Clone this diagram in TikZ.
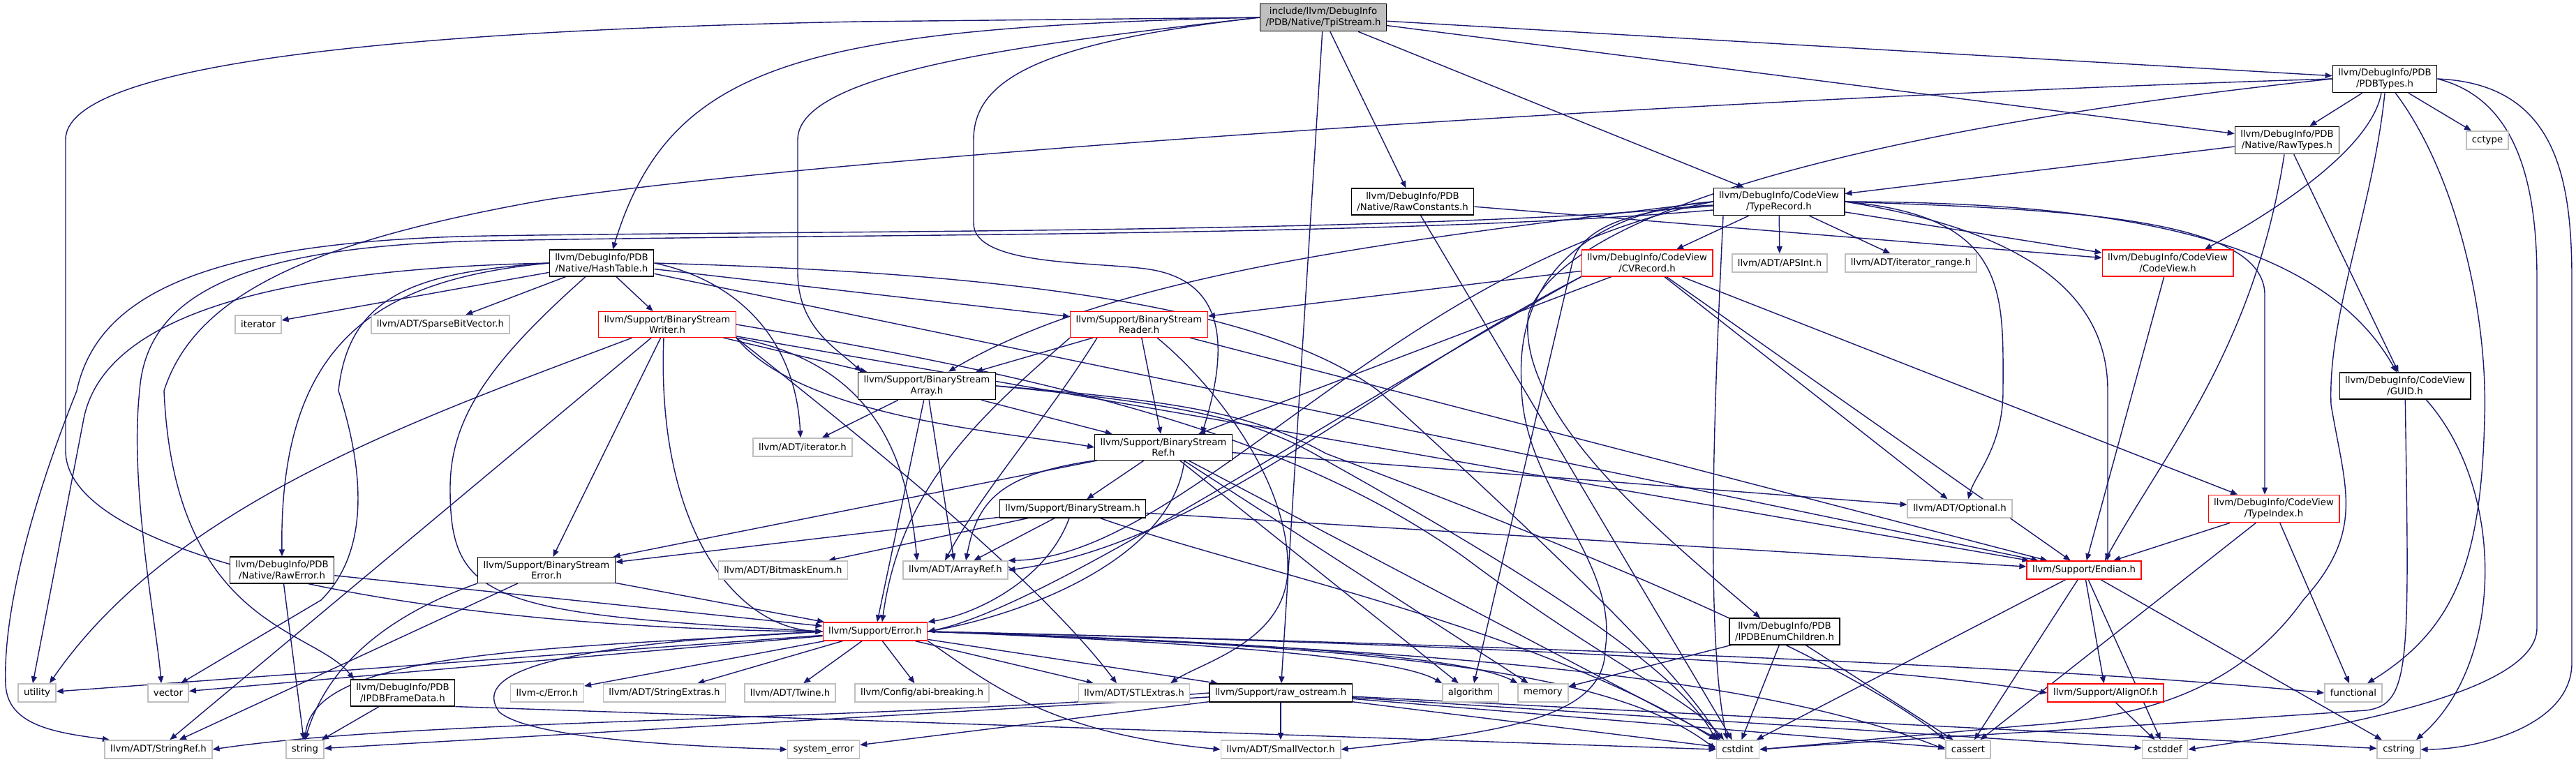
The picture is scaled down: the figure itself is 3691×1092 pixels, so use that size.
\documentclass[tikz,border=0pt]{standalone}
\usepackage{fontspec}
\setmainfont{DejaVu Sans}
\usetikzlibrary{arrows.meta}
\definecolor{edgeblue}{HTML}{191970}
\definecolor{rootgray}{HTML}{BFBFBF}
\pgfdeclarelayer{bg}
\pgfsetlayers{bg,main}
\tikzset{
  file/.style={draw=black, fill=white, line width=1.3pt, inner xsep=8pt, inner ysep=5.5pt,
    minimum height=26pt, align=center, font=\fontsize{13.3}{15.5}\selectfont},
  trunc/.style={file, draw=red},
  sys/.style={file, draw=black!25, line width=1.6pt},
  root/.style={file, fill=rootgray},
  dep/.style={->, draw=edgeblue, line width=1.4pt},
}
\begin{document}
\begin{tikzpicture}[x=1pt, y=-1pt, >={Triangle[length=10pt,width=8pt]}]
\useasboundingbox (0,0) rectangle (3691,1092);

\node[root] (tpi) at (1896,25) {include/llvm/DebugInfo\\/PDB/Native/TpiStream.h};
\node[file] (hash) at (862,377) {llvm/DebugInfo/PDB\\/Native/HashTable.h};
\node[file] (rawconst) at (2024,289) {llvm/DebugInfo/PDB\\/Native/RawConstants.h};
\node[file] (typerec) at (2549,289) {llvm/DebugInfo/CodeView\\/TypeRecord.h};
\node[file] (pdbtypes) at (3417,113) {llvm/DebugInfo/PDB\\/PDBTypes.h};
\node[file] (rawtypes) at (3277,201) {llvm/DebugInfo/PDB\\/Native/RawTypes.h};
\node[sys] (cctype) at (3564,201) {cctype};
\node[trunc] (cvrecord) at (2360,377) {llvm/DebugInfo/CodeView\\/CVRecord.h};
\node[sys] (apsint) at (2550,377) {llvm/ADT/APSInt.h};
\node[sys] (iterrange) at (2738,377) {llvm/ADT/iterator\_range.h};
\node[trunc] (codeview) at (3106,377) {llvm/DebugInfo/CodeView\\/CodeView.h};
\node[sys] (iterstd) at (370,465) {iterator};
\node[sys] (sparse) at (631,465) {llvm/ADT/SparseBitVector.h};
\node[trunc] (writer) at (956,465) {llvm/Support/BinaryStream\\Writer.h};
\node[trunc] (reader) at (1632,465) {llvm/Support/BinaryStream\\Reader.h};
\node[file] (array) at (1328,553) {llvm/Support/BinaryStream\\Array.h};
\node[file] (guid) at (3446,553) {llvm/DebugInfo/CodeView\\/GUID.h};
\node[sys] (iteradt) at (1150,641) {llvm/ADT/iterator.h};
\node[file] (ref) at (1667,641) {llvm/Support/BinaryStream\\Ref.h};
\node[file] (binstream) at (1537,729) {llvm/Support/BinaryStream.h};
\node[sys] (optional) at (2808,729) {llvm/ADT/Optional.h};
\node[trunc] (typeindex) at (3258,729) {llvm/DebugInfo/CodeView\\/TypeIndex.h};
\node[file] (rawerror) at (404,817) {llvm/DebugInfo/PDB\\/Native/RawError.h};
\node[file] (streamerror) at (783,817) {llvm/Support/BinaryStream\\Error.h};
\node[sys] (bitmask) at (1122,817) {llvm/ADT/BitmaskEnum.h};
\node[sys] (arrayref) at (1369,817) {llvm/ADT/ArrayRef.h};
\node[trunc] (endian) at (2986,817) {llvm/Support/Endian.h};
\node[trunc] (error) at (1254,905) {llvm/Support/Error.h};
\node[file] (enumch) at (2557,905) {llvm/DebugInfo/PDB\\/IPDBEnumChildren.h};
\node[sys] (utility) at (53,993) {utility};
\node[sys] (vector) at (241,993) {vector};
\node[file] (framedata) at (577,993) {llvm/DebugInfo/PDB\\/IPDBFrameData.h};
\node[sys] (cerror) at (784,993) {llvm-c/Error.h};
\node[sys] (strext) at (952,993) {llvm/ADT/StringExtras.h};
\node[sys] (twine) at (1132,993) {llvm/ADT/Twine.h};
\node[sys] (abi) at (1321,993) {llvm/Config/abi-breaking.h};
\node[sys] (stlext) at (1625,993) {llvm/ADT/STLExtras.h};
\node[file] (ostream) at (1835,993) {llvm/Support/raw\_ostream.h};
\node[sys] (algorithm) at (2107,993) {algorithm};
\node[sys] (memory) at (2211,993) {memory};
\node[trunc] (alignof) at (3017,993) {llvm/Support/AlignOf.h};
\node[sys] (functional) at (3372,993) {functional};
\node[sys] (strref) at (227,1074) {llvm/ADT/StringRef.h};
\node[sys] (string) at (437,1074) {string};
\node[sys] (syserror) at (1180,1074) {system\_error};
\node[sys] (smallvec) at (1835,1074) {llvm/ADT/SmallVector.h};
\node[sys] (cstdint) at (2490,1074) {cstdint};
\node[sys] (cassert) at (2820,1074) {cassert};
\node[sys] (cstddef) at (3102,1074) {cstddef};
\node[sys] (cstring) at (3437,1074) {cstring};

\begin{pgfonlayer}{bg}
\fill[white] (0,0) rectangle (3691,1092);

\draw[dep] (tpi.west) -- (1230,31) .. controls (500,45) and (94,100) .. (94,200) -- (94,646) .. controls (94,800) and (600,900) .. (error.west);
\draw[dep] (tpi.west) .. controls (1150,40) and (960,90) .. ([xshift=16pt]hash.north);
\draw[dep] (tpi.west) .. controls (1500,60) and (1143,100) .. (1143,200) -- (1143,390) .. controls (1143,470) and (1200,500) .. ([xshift=5pt]array.north west);
\draw[dep] (tpi.west) .. controls (1500,60) and (1395,110) .. (1395,200) -- (1395,320) .. controls (1395,380) and (1560,375) .. (1640,385) .. controls (1760,400) and (1760,500) .. ([xshift=55pt]ref.north);
\draw[dep] (tpi) -- (ostream);
\draw[dep] (tpi) -- (rawconst);
\draw[dep] (tpi) -- (typerec);
\draw[dep] (tpi) -- (pdbtypes);
\draw[dep] (tpi) -- (rawtypes);

\draw[dep] (hash) -- (iterstd);
\draw[dep] (hash) -- (sparse);
\draw[dep] (hash) -- (writer);
\draw[dep] (hash) -- (reader);
\draw[dep] (hash) -- (endian);
\draw[dep] (hash.west) .. controls (550,400) and (400,480) .. (rawerror.north);
\draw[dep] ([xshift=-23pt]hash.south) .. controls (700,520) and (645,600) .. (645,700) .. controls (645,860) and (700,880) .. (error.west);
\draw[dep] (hash.east) .. controls (1050,400) and (1140,480) .. ([xshift=-3pt]iteradt.north);
\draw[dep] (hash.east) .. controls (1400,390) and (1800,430) .. (1975,560) .. controls (2150,720) and (2400,950) .. ([xshift=-25pt]cstdint.north);
\draw[dep] (hash.west) .. controls (400,385) and (150,450) .. (120,600) -- ([xshift=-6pt]utility.north);
\draw[dep] (hash.west) .. controls (600,390) and (500,420) .. (485,560) .. controls (530,700) and (520,800) .. (460,860) -- ([xshift=18pt]vector.north);

\draw[dep] (rawconst) -- (codeview);
\draw[dep] (rawconst) -- (cstdint);

\draw[dep] (rawtypes) -- (typerec);
\draw[dep] (rawtypes) -- (guid);
\draw[dep] ([xshift=-4pt]rawtypes.south) .. controls (3230,500) and (3100,650) .. ([xshift=30pt]endian.north);

\draw[dep] (pdbtypes) -- (rawtypes);
\draw[dep] (pdbtypes) -- (cctype);
\draw[dep] ([xshift=-5pt]pdbtypes.south) .. controls (3400,200) and (3300,280) .. ([xshift=53pt]codeview.north);
\draw[dep] (pdbtypes.west) .. controls (2800,170) and (2250,280) .. (2190,450) .. controls (2170,600) and (2400,780) .. ([xshift=-35pt]enumch.north);
\draw[dep] (pdbtypes.west) .. controls (2460,140) and (1230,220) .. (784,286) .. controls (450,345) and (280,420) .. (235,560) .. controls (250,900) and (450,900) .. ([xshift=-70pt]framedata.north);
\draw[dep] (pdbtypes.south) .. controls (3400,300) and (3335,450) .. (3340,580) .. controls (3360,700) and (3390,760) .. (3300,860) .. controls (3200,1000) and (3050,1030) .. (2900,1040) -- (cstdint.east);
\draw[dep] (pdbtypes) .. controls (3520,250) and (3565,450) .. (3560,600) .. controls (3555,800) and (3520,900) .. ([xshift=20pt]functional.north);
\draw[dep] (pdbtypes.east) .. controls (3600,140) and (3635,250) .. (3635,400) -- (3635,900) .. controls (3635,1000) and (3300,1050) .. (cstddef.east);
\draw[dep] (pdbtypes.east) .. controls (3660,120) and (3685,250) .. (3685,400) -- (3685,950) .. controls (3685,1040) and (3550,1074) .. (cstring.east);

\draw[dep] (typerec) -- (apsint);
\draw[dep] (typerec) -- (iterrange);
\draw[dep] (typerec) -- (codeview);
\draw[dep] (typerec) -- (cvrecord);
\draw[dep] ([yshift=-5pt]typerec.west) .. controls (2330,300) and (2262,330) .. (2252,380) -- ([xshift=5pt]algorithm.north);
\draw[dep] (typerec.west) .. controls (2014,343) and (1600,390) .. ([xshift=31pt]array.north);
\draw[dep] (typerec.west) .. controls (2000,380) and (1700,800) .. (arrayref.north east);
\draw[dep] (typerec.east) .. controls (2880,310) and (2870,420) .. (2870,560) .. controls (2870,640) and (2830,680) .. ([xshift=12pt]optional.north);
\draw[dep] (typerec.east) .. controls (3000,290) and (3320,330) .. ([xshift=-12pt]guid.north);
\draw[dep] (typerec.east) .. controls (2950,300) and (3240,310) .. (3245,420) -- ([xshift=-13pt]typeindex.north);
\draw[dep] (typerec.east) .. controls (2900,330) and (3020,420) .. (3020,560) -- ([xshift=34pt]endian.north);
\draw[dep] ([xshift=-80pt]typerec.south) .. controls (2460,500) and (2440,900) .. ([xshift=-15pt]cstdint.north);
\draw[dep] ([yshift=-12pt]typerec.west) .. controls (2000,340) and (1200,335) .. (700,345) .. controls (350,352) and (210,420) .. (200,560) .. controls (185,700) and (225,900) .. ([xshift=-10pt]vector.north);
\draw[dep] ([yshift=-6pt]typerec.west) .. controls (2000,335) and (1200,330) .. (700,338) .. controls (300,345) and (140,420) .. (110,560) .. controls (30,760) and (5,900) .. (8,980) .. controls (10,1040) and (80,1050) .. ([xshift=-70pt]strref.north);
\draw[dep] (typerec.west) .. controls (2300,300) and (2170,380) .. (2180,550) .. controls (2180,700) and (2320,800) .. (2300,930) .. controls (2300,1030) and (2150,1050) .. (smallvec.east);

\draw[dep] (cvrecord) -- (reader);
\draw[dep] (cvrecord) -- (typeindex);
\draw[dep] (cvrecord) -- (endian);
\draw[dep] (cvrecord) -- (optional);
\draw[dep] (cvrecord) -- (ref);
\draw[dep] (cvrecord.south west) .. controls (1950,560) and (1720,780) .. (arrayref.east);
\draw[dep] (cvrecord.south west) .. controls (1900,600) and (1500,870) .. (error.east);

\draw[dep] (writer) -- (array);
\draw[dep] (writer) -- (endian);
\draw[dep] (writer) -- (streamerror);
\draw[dep] (writer) -- (strref);
\draw[dep] (writer.south east) .. controls (1150,600) and (1450,620) .. (ref.west);
\draw[dep] (writer) .. controls (600,600) and (250,720) .. ([xshift=18pt]utility.north);
\draw[dep] (writer.south east) .. controls (1200,600) and (1480,820) .. ([xshift=-25pt]stlext.north);
\draw[dep] (writer.south east) .. controls (1250,520) and (1300,650) .. ([xshift=-55pt]arrayref.north);
\draw[dep] ([xshift=-5pt]writer.south) .. controls (940,750) and (1050,900) .. (error.west);
\draw[dep] (writer.east) .. controls (1500,540) and (1850,620) .. (2100,800) .. controls (2300,950) and (2420,1000) .. ([xshift=-20pt]cstdint.north);

\draw[dep] (reader) -- (array);
\draw[dep] (reader) -- (ref);
\draw[dep] (reader) -- (endian);
\draw[dep] ([xshift=-60pt]reader.south) .. controls (1500,600) and (1410,700) .. ([xshift=-15pt]arrayref.north);
\draw[dep] (reader.south west) .. controls (1400,600) and (1290,700) .. ([xshift=10pt]error.north);
\draw[dep] ([xshift=26pt]reader.south) .. controls (1750,560) and (1850,700) .. (1845,820) .. controls (1840,920) and (1720,950) .. ([xshift=52pt]stlext.north);

\draw[dep] (array) -- (arrayref);
\draw[dep] (array) -- (iteradt);
\draw[dep] (array) -- (ref);
\draw[dep] (array) -- (error);
\draw[dep] (array.east) .. controls (1700,580) and (1800,600) .. (1900,660) .. controls (2150,800) and (2400,950) .. (cstdint.north west);
\draw[dep] (array.east) .. controls (1700,575) and (1800,595) .. (1900,650) .. controls (2300,800) and (2650,950) .. (cassert.north west);

\draw[dep] (ref) -- (binstream);
\draw[dep] (ref.south west) .. controls (1430,680) and (1400,720) .. ([xshift=15pt]arrayref.north);
\draw[dep] (ref) -- (optional);
\draw[dep] (ref) -- (streamerror);
\draw[dep] ([xshift=30pt]ref.south) .. controls (1680,800) and (1470,880) .. (error.east);
\draw[dep] (ref) -- (algorithm);
\draw[dep] (ref) -- (memory);
\draw[dep] (ref) -- (cstdint);

\draw[dep] (binstream) -- (arrayref);
\draw[dep] (binstream) -- (bitmask);
\draw[dep] (binstream) -- (streamerror);
\draw[dep] (binstream) -- (endian);
\draw[dep] ([xshift=-5pt]binstream.south) .. controls (1500,830) and (1400,880) .. (error.north east);
\draw[dep] (binstream) .. controls (1800,820) and (2200,900) .. (cstdint.north west);

\draw[dep] (streamerror) -- (strref);
\draw[dep] (streamerror) -- (error);
\draw[dep] (streamerror.south west) .. controls (560,880) and (470,950) .. (string.north);

\draw[dep] (rawerror) -- (error);
\draw[dep] (rawerror) -- (string);

\draw[dep] (framedata) -- (string);
\draw[dep] (framedata.south east) -- (cstdint.west);

\draw[dep] (enumch) -- (memory);
\draw[dep] (enumch) -- (cstdint);
\draw[dep] (enumch) -- (cassert);

\draw[dep] (error) -- (cerror);
\draw[dep] (error) -- (strext);
\draw[dep] (error) -- (twine);
\draw[dep] (error) -- (abi);
\draw[dep] (error) -- (stlext);
\draw[dep] (error) -- (ostream);
\draw[dep] (error) -- (utility);
\draw[dep] (error) -- (vector);
\draw[dep] (error.west) .. controls (800,930) and (450,930) .. (string.north);
\draw[dep] (error.west) .. controls (760,925) and (680,970) .. (715,1020) .. controls (760,1060) and (1000,1070) .. (syserror.west);
\draw[dep] (error.south east) .. controls (1420,980) and (1500,1050) .. (smallvec.west);
\draw[dep] (error.east) .. controls (1700,920) and (2000,940) .. (algorithm.north west);
\draw[dep] (error.east) .. controls (1800,920) and (2100,940) .. (memory.north west);
\draw[dep] (error.east) .. controls (1900,925) and (2300,950) .. (cstdint.west);
\draw[dep] (error.east) .. controls (2000,930) and (2500,960) .. (cassert.west);
\draw[dep] (error.east) .. controls (2000,920) and (2700,950) .. (alignof.west);
\draw[dep] (error.east) .. controls (2000,920) and (2900,950) .. (functional.west);

\draw[dep] (ostream) -- (smallvec);
\draw[dep] (ostream) -- (syserror);
\draw[dep] (ostream) -- (string);
\draw[dep] (ostream.west) .. controls (1200,1035) and (600,1030) .. (strref.east);
\draw[dep] (ostream) -- (cassert);
\draw[dep] (ostream) -- (cstddef);
\draw[dep] (ostream) -- (cstdint);
\draw[dep] (ostream) -- (cstring);

\draw[dep] (endian) -- (alignof);
\draw[dep] (endian) -- (cassert);
\draw[dep] (endian) -- (cstddef);
\draw[dep] (endian) -- (cstdint);
\draw[dep] (endian) -- (cstring);

\draw[dep] (typeindex) -- (endian);
\draw[dep] (typeindex) -- (functional);
\draw[dep] (typeindex) -- (cassert);

\draw[dep] (codeview) -- (endian);

\draw[dep] (guid) .. controls (3452,950) and (3455,1010) .. (3390,1018) .. controls (3000,1045) and (2700,1060) .. (cstdint.east);
\draw[dep] ([xshift=30pt]guid.south) .. controls (3590,700) and (3590,950) .. ([xshift=25pt]cstring.north);

\draw[dep] (alignof) -- (cstddef);
\end{pgfonlayer}
\end{tikzpicture}
\end{document}
